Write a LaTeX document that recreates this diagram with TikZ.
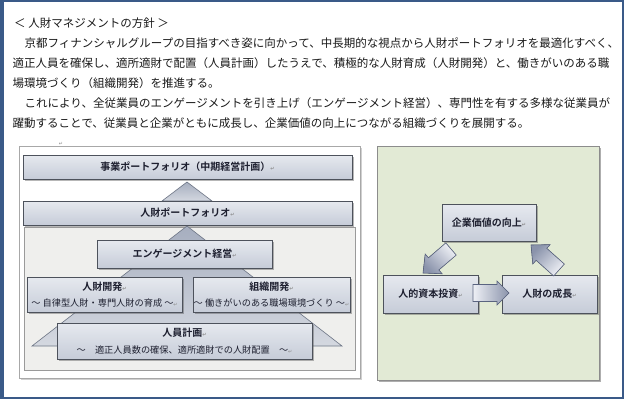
\documentclass[tikz,border=0pt]{standalone}
\usepackage{fontspec}
\newfontfamily\jp{Noto Sans CJK JP}[BoldFont={Noto Sans CJK JP Bold}]
\newfontfamily\djv{DejaVu Sans}
\usetikzlibrary{shadows,calc}
\definecolor{frameblue}{HTML}{3A5A88}
\definecolor{bodytext}{HTML}{1A1A1A}
\definecolor{textdark}{HTML}{1E2030}
\definecolor{boxtop}{HTML}{E6E9EF}
\definecolor{boxbot}{HTML}{C6CCD8}
\definecolor{boxline}{HTML}{4D525C}
\definecolor{pyrtop}{HTML}{A6AEBF}
\definecolor{pyrbot}{HTML}{D4D8E0}
\definecolor{pyrline}{HTML}{6D7585}
\definecolor{innerfill}{HTML}{EFEFED}
\definecolor{innerline}{HTML}{9A9A9A}
\definecolor{panelline}{HTML}{A8A8A8}
\definecolor{greenfill}{HTML}{E2EAD5}
\definecolor{greenline}{HTML}{8C8C8C}
\definecolor{arrlight}{HTML}{EEF0F5}
\definecolor{arrdark}{HTML}{8A93AB}
\definecolor{arrline}{HTML}{5A6480}
\definecolor{retgray}{HTML}{8A8A8A}
\newcommand\retm{{\djv\fontsize{5}{5}\selectfont\textcolor{retgray}{↵}}}
\begin{document}
\begin{tikzpicture}[x=1pt,y=-1pt,
  bodyline/.style={anchor=west, inner sep=0pt, text=bodytext, font=\jp\fontsize{11.5}{13}\selectfont},
  box/.style={draw=boxline, line width=0.7pt, top color=boxtop, bottom color=boxbot, inner sep=0pt,
    drop shadow={shadow xshift=1.6pt, shadow yshift=-1.6pt, opacity=0.4, fill=black!70},
    text=textdark, font=\jp\bfseries\fontsize{10}{12}\selectfont, align=center},
  twobox/.style={box, font=\jp\fontsize{9.2}{16.5}\selectfont},
  pyr/.style={draw=pyrline, line width=0.6pt, top color=pyrtop, bottom color=pyrbot},
  barrow/.style={draw=arrline, line width=0.6pt}
]
\useasboundingbox (0,0) rectangle (624,399);
\fill[white] (0,0) rectangle (624,399);
% outer frame
\draw[frameblue, line width=2pt] (1,1) rectangle (623,398);
\fill[frameblue] (0,0) rectangle (4,399);

% text block
\node[bodyline] (t0) at (14,22.7) {＜ 人財マネジメントの方針 ＞};
\node[bodyline] (t1) at (24.5,42.7) {京都フィナンシャルグループの目指すべき姿に向かって、中長期的な視点から人財ポートフォリオを最適化すべく、};
\node[bodyline] (t2) at (12.5,62.7) {適正人員を確保し、適所適財で配置（人員計画）したうえで、積極的な人財育成（人財開発）と、働きがいのある職};
\node[bodyline] (t3) at (12.5,82.7) {場環境づくり（組織開発）を推進する。};
\node[bodyline] (t4) at (24.5,103) {これにより、全従業員のエンゲージメントを引き上げ（エンゲージメント経営）、専門性を有する多様な従業員が};
\node[bodyline] (t5) at (12.5,123) {躍動することで、従業員と企業がともに成長し、企業価値の向上につながる組織づくりを展開する。};

% left panel
\node[inner sep=0pt] (mk) at (61,144) {\retm};
\filldraw[draw=panelline, fill=white, line width=0.6pt,
  drop shadow={shadow xshift=1.5pt, shadow yshift=-1.5pt, opacity=0.3, fill=black!60}]
  (19,146) rectangle (360,378);
\node[box, minimum width=329pt, minimum height=24pt] (b1) at (187.5,167) {事業ポートフォリオ（中期経営計画）\retm};
\path[pyr] (187,182) -- (212,201) -- (162,201) -- cycle;
\node[box, minimum width=329pt, minimum height=24pt] (b2) at (187.5,213) {人財ポートフォリオ\retm};
\filldraw[draw=innerline, fill=innerfill, line width=0.6pt] (24,227) rectangle (355,370);
\path[pyr] (187,226) -- (342,346) -- (32,346) -- cycle;
\node[box, minimum width=175pt, minimum height=28pt] (b3) at (184.5,254) {エンゲージメント経営\retm};
\node[twobox, minimum width=155pt, minimum height=35pt] (b4) at (104.5,294.5)
  {{\bfseries\fontsize{10}{16.5}\selectfont 人財開発\retm}\\～ 自律型人財・専門人財の育成 ～\retm};
\node[twobox, minimum width=157pt, minimum height=35pt] (b5) at (271.5,294.5)
  {{\bfseries\fontsize{10}{16.5}\selectfont 組織開発\retm}\\～ 働きがいのある職場環境づくり ～\retm};
\node[twobox, minimum width=255pt, minimum height=36pt] (b6) at (184.5,341)
  {{\bfseries\fontsize{10}{15.5}\selectfont 人員計画\retm}\\～　適正人員数の確保、適所適財での人財配置　～\retm};

% right panel
\filldraw[draw=greenline, fill=greenfill, line width=0.6pt,
  drop shadow={shadow xshift=1.8pt, shadow yshift=-1.8pt, opacity=0.45, fill=black!70}]
  (377,146) rectangle (599,380);
\node[box, minimum width=94pt, minimum height=37pt] (r1) at (489,222.5) {企業価値の向上\retm};
\node[box, minimum width=95pt, minimum height=38pt] (r2) at (430.5,294) {人的資本投資\retm};
\node[box, minimum width=95pt, minimum height=38pt] (r3) at (549.5,294) {人財の成長\retm};

% block arrows
\coordinate (a1t) at (451,249);
\coordinate (a1p) at (423,273);
\coordinate (a1h) at ($(a1p)!14pt!(a1t)$);
\filldraw[barrow, top color=arrlight, bottom color=arrdark, shading angle=-45]
  ($(a1t)!8pt!90:(a1p)$) -- ($(a1h)!8pt!90:(a1p)$) -- ($(a1h)!13pt!90:(a1p)$) -- (a1p)
  -- ($(a1h)!13pt!-90:(a1p)$) -- ($(a1h)!8pt!-90:(a1p)$) -- ($(a1t)!8pt!-90:(a1p)$) -- cycle;

\coordinate (a2t) at (473,293);
\coordinate (a2p) at (509,293);
\coordinate (a2h) at ($(a2p)!12pt!(a2t)$);
\filldraw[barrow, left color=arrlight, right color=arrdark]
  ($(a2t)!8.5pt!90:(a2p)$) -- ($(a2h)!8.5pt!90:(a2p)$) -- ($(a2h)!12pt!90:(a2p)$) -- (a2p)
  -- ($(a2h)!12pt!-90:(a2p)$) -- ($(a2h)!8.5pt!-90:(a2p)$) -- ($(a2t)!8.5pt!-90:(a2p)$) -- cycle;

\coordinate (a3t) at (559,270);
\coordinate (a3p) at (531,245);
\coordinate (a3h) at ($(a3p)!14pt!(a3t)$);
\filldraw[barrow, top color=arrdark, bottom color=arrlight, shading angle=45]
  ($(a3t)!8pt!90:(a3p)$) -- ($(a3h)!8pt!90:(a3p)$) -- ($(a3h)!13pt!90:(a3p)$) -- (a3p)
  -- ($(a3h)!13pt!-90:(a3p)$) -- ($(a3h)!8pt!-90:(a3p)$) -- ($(a3t)!8pt!-90:(a3p)$) -- cycle;
\end{tikzpicture}
\end{document}
